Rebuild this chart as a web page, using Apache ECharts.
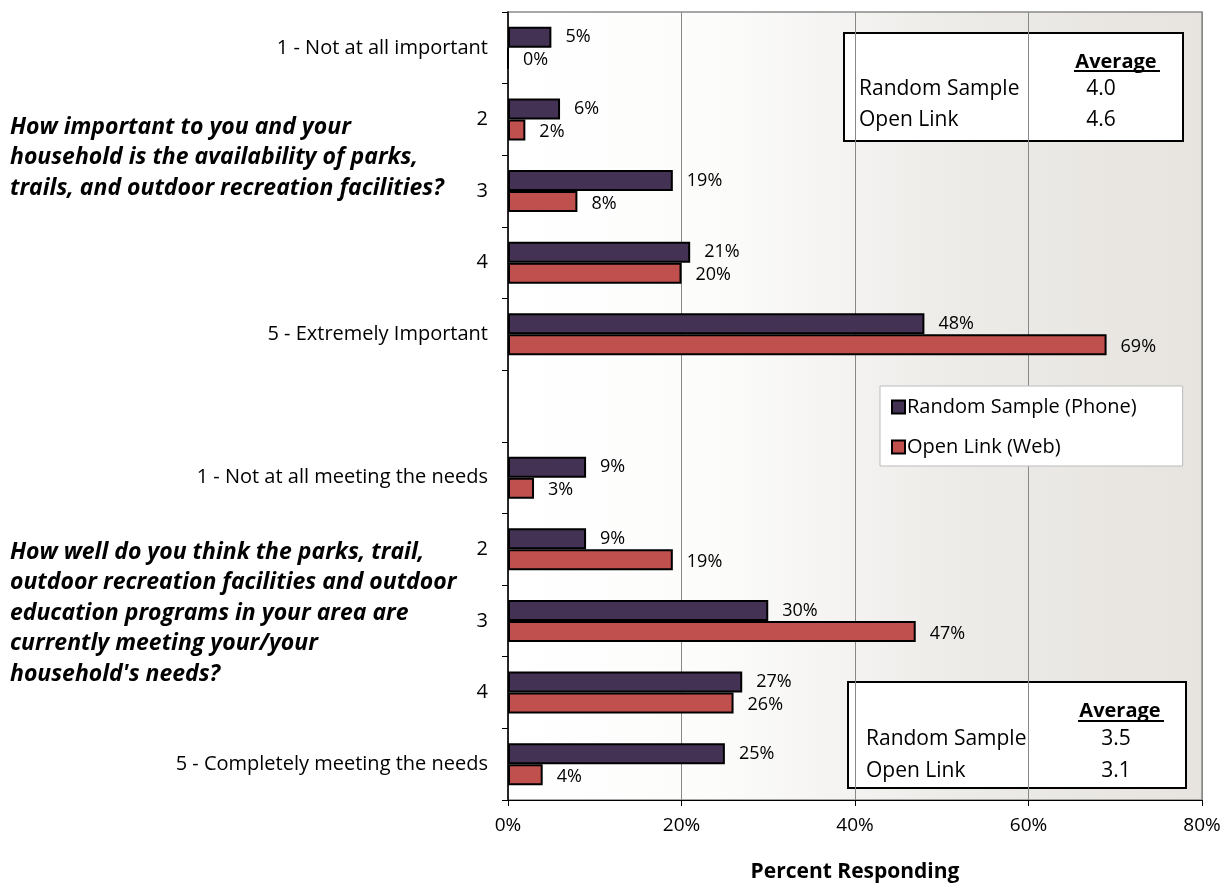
<!DOCTYPE html>
<html>
<head>
    <meta charset="utf-8">
    <script src="https://cdn.jsdelivr.net/npm/echarts@6/dist/echarts.min.js"></script>
</head>
<body style="margin:0">
<div id="main" style="width: 1228px;height:888px;"></div>
<script type="text/javascript">
    // categories, top to bottom (blank slot separates the two questions)
    var categories = ['1 - Not at all important', '2', '3', '4', '5 - Extremely Important', '',
        '1 - Not at all meeting the needs', '2', '3', '4', '5 - Completely meeting the needs'];
    var randomSample = [5, 6, 19, 21, 48, null, 9, 9, 30, 27, 25];
    var openLink = [0, 2, 8, 20, 69, null, 3, 19, 47, 26, 4];
    var xTicks = [0, 20, 40, 60, 80];
    var avgRandom = ['4.0', '3.5'];
    var avgOpen = ['4.6', '3.1'];
    var question1 = ['How important to you and your', 'household is the availability of parks,',
        'trails, and outdoor recreation facilities?'];
    var question2 = ['How well do you think the parks, trail,', 'outdoor recreation facilities and outdoor',
        'education programs in your area are', 'currently meeting your/your', "household's needs?"];

    var FONT = '"Open Sans", sans-serif';
    var myChart = echarts.init(document.getElementById('main'));

    // little "Average" boxes
    function avgBox(x, y, w, h, i, valX, row1, row2, textX) {
        var t = function (txt, px, py, extra) {
            var st = {text: txt, fontFamily: FONT, fontSize: 21, fill: '#000', verticalAlign: 'middle'};
            for (var k in extra) st[k] = extra[k];
            return {type: 'text', x: px, y: py, style: st};
        };
        return {
            type: 'group', left: x, top: y,
            children: [
                {type: 'rect', shape: {x: 0, y: 0, width: w, height: h},
                    style: {fill: '#fff', stroke: '#000', lineWidth: 2}},
                t('Average', 272, 29, {fontWeight: 'bold', align: 'center', fontSize: 20}),
                {type: 'rect', shape: {x: 230, y: row1 - 19, width: 86, height: 2}, style: {fill: '#000'}},
                t('Random Sample', textX, row1),
                t(avgRandom[i], valX, row1, {align: 'center'}),
                t('Open Link', textX, row2),
                t(avgOpen[i], valX, row2, {align: 'center'})
            ]
        };
    }

    function question(lines, top) {
        return {
            type: 'text', left: 10, top: top,
            style: {text: lines.join('\n'), fontFamily: FONT, fontSize: 23, fontWeight: 'bold',
                fontStyle: 'italic', lineHeight: 30.5, fill: '#000'}
        };
    }

    var option = {
        animation: false,
        textStyle: {fontFamily: FONT},
        grid: {
            left: 508, top: 12, right: 26, bottom: 84,
            show: true,
            borderColor: '#8a8a8a',
            borderWidth: 1.5,
            backgroundColor: {
                type: 'linear', x: 0, y: 0, x2: 1, y2: 0,
                colorStops: [
                    {offset: 0, color: '#ffffff'},
                    {offset: 0.3, color: '#fcfcfb'},
                    {offset: 0.65, color: '#edebe8'},
                    {offset: 1, color: '#e7e4df'}
                ]
            }
        },
        legend: {
            orient: 'vertical',
            left: 880, top: 386,
            padding: [11, 46, 9, 11],
            itemGap: 20,
            itemWidth: 13, itemHeight: 13,
            icon: 'rect',
            backgroundColor: '#fff',
            borderColor: '#bbb',
            borderWidth: 1,
            textStyle: {fontSize: 20, color: '#000', fontFamily: FONT, padding: [0, 0, 0, -3]},
            data: ['Random Sample (Phone)', 'Open Link (Web)']
        },
        xAxis: {
            type: 'value',
            min: xTicks[0], max: xTicks[xTicks.length - 1], interval: 20,
            name: 'Percent Responding',
            nameLocation: 'middle',
            nameGap: 62,
            nameTextStyle: {fontSize: 21, fontWeight: 'bold', color: '#000', fontFamily: FONT},
            axisLine: {show: true, lineStyle: {color: '#000', width: 1}},
            axisTick: {show: true, length: 6, lineStyle: {color: '#000'}},
            axisLabel: {formatter: '{value}%', fontSize: 19, color: '#000', margin: 16, fontFamily: FONT},
            splitLine: {show: true, lineStyle: {color: '#888', width: 1}}
        },
        yAxis: {
            type: 'category',
            inverse: true,
            data: categories,
            axisLine: {show: true, lineStyle: {color: '#000', width: 1.5}},
            axisTick: {show: true, length: 6, lineStyle: {color: '#000'}},
            axisLabel: {fontSize: 20, color: '#000', margin: 20, fontFamily: FONT},
            splitLine: {show: false}
        },
        series: [
            {
                name: 'Random Sample (Phone)',
                type: 'bar',
                data: randomSample,
                barWidth: 21,
                barGap: '0%',
                itemStyle: {color: '#433254', borderColor: '#000', borderWidth: 2},
                label: {show: true, position: 'right', distance: 14, formatter: '{c}%',
                    fontSize: 18, color: '#000', fontFamily: FONT, offset: [0, 0]}
            },
            {
                name: 'Open Link (Web)',
                type: 'bar',
                data: openLink,
                barWidth: 21,
                barGap: '0%',
                itemStyle: {color: '#c0504d', borderColor: '#000', borderWidth: 2},
                label: {show: true, position: 'right', distance: 14, formatter: '{c}%',
                    fontSize: 18, color: '#000', fontFamily: FONT, offset: [0, 2]}
            }
        ],
        graphic: [
            question(question1, 112),
            question(question2, 537),
            avgBox(843, 32, 339, 108, 0, 257, 56, 87, 15),
            avgBox(847, 681, 338, 106, 1, 268, 57, 89, 18)
        ]
    };
    myChart.setOption(option);
</script>
</body>
</html>
